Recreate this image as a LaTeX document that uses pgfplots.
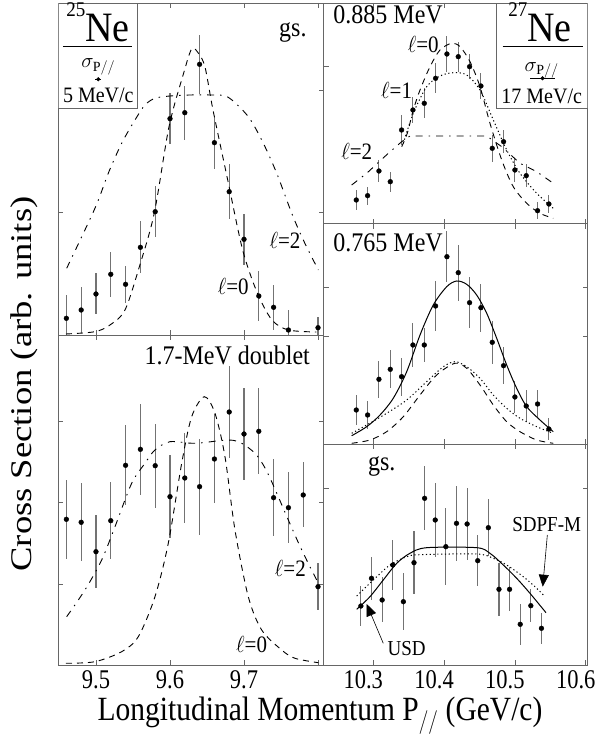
\documentclass[border=0pt]{standalone}
\usepackage{fontspec}
\setmainfont{Liberation Serif}
\usepackage{pgfplots}
\pgfplotsset{compat=1.18}
\usetikzlibrary{arrows.meta}
\tikzset{
  lab/.style={font=\fontsize{21}{21}\selectfont, yscale=1.12},
  big/.style={font=\fontsize{24}{24}\selectfont, yscale=1.12},
}
\pgfplotsset{
  panel/.style={scale only axis, anchor=south west, ymin=0,
    axis line style={black!60, line width=0.9pt},
    every tick/.style={black!60, line width=0.7pt},
    major tick length=5pt, tick align=inside,
    xtick pos=both, ytick pos=both,
    yticklabels={}, xticklabels={},
    /pgf/number format/assume math mode=true,
    xticklabel style={font=\fontsize{22.5}{22.5}\selectfont, yscale=1.2, yshift=-1pt}},
  leftp/.style={panel, width=265.2pt, xmin=9.4491, xmax=9.8074, xtick={9.5,9.6,9.7,9.8}},
  rightp/.style={panel, width=264.2pt, xmin=10.2297, xmax=10.6028, xtick={10.3,10.4,10.5,10.6}},
  dat/.style={only marks, mark=*, mark size=2.4pt, black,
    error bars/.cd, y dir=both, y explicit,
    error bar style={black!55, line width=1.1pt}, error mark=none},
  l0/.style={black, line width=0.9pt, dash pattern=on 6pt off 5pt},
  l2/.style={black, line width=0.9pt, dash pattern=on 7pt off 6pt on 1.5pt off 6pt},
  l1/.style={black, line width=1pt, dash pattern=on 1.2pt off 2.6pt},
}
\begin{document}
\begin{tikzpicture}
\path[use as bounding box] (0,0) rectangle (604pt,737pt);
% ---------------- left top: 25Ne gs
\begin{axis}[leftp, at={(58.3pt,402pt)}, height=332pt, ymax=332, ytick={123,245}]
\addplot[dat] table[x=x,y=y,y error=e] {
x y e
9.46 16.7 23
9.48 25 23
9.50 41 20.5
9.52 60.7 22.7
9.54 50.7 18.7
9.56 87.7 26
9.58 123.3 25.3
9.60 216.3 25.3
9.62 222.3 27
9.64 270.7 29.5
9.66 192.3 26.7
9.68 143.3 27.2
9.70 95.7 25.5
9.72 39 25
9.74 27.7 22.5
9.76 5 20
9.80 7.3 11
};
\addplot[l0, smooth] coordinates {(9.4595,1) (9.4986,3.3) (9.5189,10) (9.5392,25) (9.5585,68) (9.5788,122) (9.5986,208) (9.6185,262) (9.6293,286) (9.6382,282) (9.6473,268) (9.6581,225) (9.6780,155) (9.6982,85) (9.7180,42) (9.7378,15) (9.7599,5) (9.7977,3)};
\addplot[l2, smooth] coordinates {(9.4604,66.7) (9.4986,126.7) (9.5166,161.7) (9.5347,191.7) (9.5527,215) (9.5662,230) (9.5797,236.7) (9.6,239) (9.627,240) (9.654,240) (9.678,238) (9.7058,218.3) (9.7261,191.7) (9.7442,161.7) (9.7645,121.7) (9.7801,95) (9.8004,65)};
\draw[black!60, line width=0.9pt, fill=white] (axis cs:9.4491,226.7) rectangle (axis cs:9.5564,332);
\node[font=\fontsize{38}{38}\selectfont, inner sep=0pt, anchor=base, yscale=1.1] at (axis cs:9.5027,293) {\raisebox{0.6em}{\fontsize{19}{19}\selectfont 25}Ne};
\draw[black, line width=0.8pt] (axis cs:9.4554,288.3) -- (axis cs:9.5486,288.3);
\node[font=\fontsize{20}{20}\selectfont, inner sep=0pt, anchor=base] at (axis cs:9.5031,267) {$\sigma_{\mathrm{P}//}$};
\addplot[only marks, mark=*, mark size=1.8pt, black, error bars/.cd, x dir=both, x explicit, error mark=none, error bar style={line width=0.8pt}] coordinates {(9.5031,255.7) +- (0.004,0)};
\node[font=\fontsize{20}{20}\selectfont, inner sep=0pt, yscale=1.1] at (axis cs:9.5031,240) {5 MeV/c};
\node[big] at (axis cs:9.766,302) {gs.};
\node[lab] at (axis cs:9.7554,95) {$\ell$=2};
\node[lab] at (axis cs:9.6855,48.3) {$\ell$=0};
\end{axis}
% ---------------- left bottom: 1.7 MeV doublet
\begin{axis}[leftp, at={(58.3pt,72pt)}, height=330pt, ymax=330, ytick={81,163,244}, xticklabels={9.5,9.6,9.7,{}}]
\addplot[dat] table[x=x,y=y,y error=e] {
x y e
9.46 145.7 39.7
9.48 142.7 39.2
9.50 113.3 36.7
9.52 144.3 38.7
9.54 199.7 40
9.56 215.7 45.5
9.58 199.3 42
9.60 168.3 41.7
9.62 187 45
9.64 178.3 48
9.66 206 44.5
9.68 253 46
9.70 231 45.8
9.72 233.7 42.8
9.74 167.3 38.3
9.76 157.3 35.8
9.78 170 32.5
9.80 78.3 23.3
};
\addplot[l0, smooth] coordinates {(9.4595,1.7) (9.4986,3.3) (9.5347,13.3) (9.5572,28.3) (9.5797,68.3) (9.5977,121.7) (9.6158,201.7) (9.6293,248.3) (9.6464,268.3) (9.6608,251.7) (9.6743,208.3) (9.6878,135) (9.7058,68.3) (9.7239,35) (9.7509,15) (9.7689,6.7) (9.8004,2.3)};
\addplot[l2, smooth] coordinates {(9.4604,48.3) (9.4851,75) (9.5077,105) (9.5257,138.3) (9.5482,181.7) (9.5662,201.7) (9.5797,215) (9.6,223.3) (9.6338,221.7) (9.6788,225) (9.6969,221.7) (9.7149,211.7) (9.7261,200) (9.7374,183.3) (9.7599,145) (9.778,115) (9.8004,81.7)};
\node[big, anchor=east] at (axis cs:9.7937,310) {1.7-MeV doublet};
\node[lab] at (axis cs:9.7626,96.7) {$\ell$=2};
\node[lab] at (axis cs:9.7103,20) {$\ell$=0};
\end{axis}
% ---------------- right top: 0.885 MeV
\begin{axis}[rightp, at={(323.5pt,513.3pt)}, height=220.7pt, ymax=220.7, ytick={157}]
\addplot[dat] table[x=x,y=y,y error=e] {
x y e
10.276 23.7 10
10.292 28 9
10.308 52.7 11.3
10.324 42 10
10.340 93.7 15
10.356 113.7 13.3
10.372 120.4 15
10.388 145.4 15
10.404 169.7 18.3
10.420 167 15
10.436 157 12.5
10.452 137.7 13.3
10.468 75.4 13.3
10.484 82 11.7
10.500 53.7 11.7
10.516 48 11.7
10.532 13 8.3
10.548 19.7 9.2
};
\addplot[l0, smooth] coordinates {(10.3401,77) (10.348,90.4) (10.3565,113.7) (10.366,133.7) (10.3801,157) (10.3942,173.7) (10.4107,180.4) (10.4225,177) (10.4366,162) (10.4507,137) (10.4648,100.4) (10.4814,63.7) (10.4977,37) (10.5167,20.4) (10.5354,10.4) (10.5542,5.4)};
\addplot[l1, smooth] coordinates {(10.3424,80.4) (10.3565,110.4) (10.3754,137) (10.3942,147.7) (10.413,151) (10.4319,148.7) (10.4507,133.7) (10.4695,103.7) (10.4884,73.7) (10.5072,50.4) (10.5308,30.4) (10.5542,15.4)};
\addplot[l2] coordinates {(10.2695,38.7) (10.2907,50.4) (10.3212,70.4) (10.3401,82) (10.3518,87.7) (10.4602,87.7) (10.4814,77) (10.5072,60.4) (10.5308,52) (10.5542,40.4)};
\draw[black!60, line width=0.9pt, fill=white] (axis cs:10.4743,115.4) rectangle (axis cs:10.6028,220.7);
\node[font=\fontsize{38}{38}\selectfont, inner sep=0pt, anchor=base, yscale=1.1] at (axis cs:10.5354,181.7) {\raisebox{0.6em}{\fontsize{19}{19}\selectfont 27}Ne};
\draw[black, line width=0.8pt] (axis cs:10.4828,177) -- (axis cs:10.5966,177);
\node[font=\fontsize{20}{20}\selectfont, inner sep=0pt, anchor=base] at (axis cs:10.5378,152.5) {$\sigma_{\mathrm{P}//}$};
\addplot[only marks, mark=*, mark size=1.8pt, black, error bars/.cd, x dir=both, x explicit, error mark=none, error bar style={line width=0.8pt}] coordinates {(10.539,145.4) +- (0.0177,0)};
\node[font=\fontsize{20}{20}\selectfont, inner sep=0pt, yscale=1.1] at (axis cs:10.5378,127) {17 MeV/c};
\node[big, anchor=west] at (axis cs:10.2388,208.7) {0.885 MeV};
\node[lab] at (axis cs:10.3706,178.7) {$\ell$=0};
\node[lab] at (axis cs:10.333,133.7) {$\ell$=1};
\node[lab] at (axis cs:10.2766,72) {$\ell$=2};
\end{axis}
% ---------------- right middle: 0.765 MeV
\begin{axis}[rightp, at={(323.5pt,292.7pt)}, height=220.6pt, ymax=220.6, ytick={107.6,156.6}]
\addplot[dat] table[x=x,y=y,y error=e] {
x y e
10.276 34.3 15
10.292 29.3 14.2
10.308 65 18.3
10.324 75 19
10.340 67.6 19
10.356 99.3 21.7
10.372 99.3 17.3
10.388 138.3 25.3
10.404 187.6 25.8
10.420 171.6 28
10.436 141.6 25.3
10.452 136.6 24
10.468 102 21.7
10.484 78.6 18.3
10.500 47.3 15.7
10.516 38.3 15.8
10.532 40.3 14.2
10.548 15.3 10.8
};
\addplot[black, line width=1pt, smooth] coordinates {(10.2695,8.6) (10.2907,17.6) (10.3095,29.3) (10.3282,46) (10.3472,72.6) (10.366,109.3) (10.3847,139.3) (10.4037,157.6) (10.4178,163.3) (10.4319,160) (10.446,149.3) (10.4602,131) (10.4743,106) (10.4884,79.3) (10.5025,56) (10.5167,37.6) (10.5354,24.3) (10.5542,12.6)};
\addplot[l1, smooth] coordinates {(10.2695,11) (10.2907,19.3) (10.3189,31) (10.3472,44.3) (10.3754,62.6) (10.3989,77.6) (10.4154,82.6) (10.4319,77.6) (10.4507,66) (10.4695,49.3) (10.4884,36) (10.5072,26) (10.5308,17.6) (10.5542,11)};
\addplot[l0, smooth] coordinates {(10.2695,1) (10.2953,4.3) (10.3189,12.6) (10.3424,27.6) (10.366,49.3) (10.3895,69.3) (10.4154,81) (10.4319,76) (10.4507,59.3) (10.4695,39.3) (10.4884,22.6) (10.5072,12.6) (10.5308,4.3) (10.5542,1)};
\node[big, anchor=west] at (axis cs:10.2388,201.3) {0.765 MeV};
\end{axis}
% ---------------- right bottom: gs
\begin{axis}[rightp, at={(323.5pt,72pt)}, height=220.7pt, ymax=220.7, ytick={177}, xticklabels={10.3,10.4,10.5,10.6}, xticklabel style={xshift=-10pt}]
\addplot[dat] table[x=x,y=y,y error=e] {
x y e
10.2825 59 20.3
10.2975 86.7 21.3
10.3125 65 22.5
10.3275 100 25
10.3425 63.3 28.3
10.3575 102.3 31.7
10.3725 166.7 32
10.3875 145 36.7
10.4025 118.3 38.3
10.4175 141.7 37.5
10.4325 141 35.8
10.4475 104.3 25.3
10.4625 137.3 28.7
10.4775 75.7 26.7
10.4925 75.7 22.2
10.5075 40.7 20.5
10.5225 59.3 16.7
10.5375 36.7 15.3
};
\addplot[black, line width=1pt, smooth] coordinates {(10.2766,55.7) (10.2953,68.3) (10.3141,85) (10.3331,101.7) (10.3518,111.7) (10.3754,117.3) (10.446,117.3) (10.4648,111.7) (10.4836,100) (10.5025,86.7) (10.5213,71.7) (10.5439,52.3)};
\addplot[l1, smooth] coordinates {(10.2766,69) (10.3,85) (10.3236,100) (10.3472,108.3) (10.366,110.3) (10.446,111) (10.4695,106.7) (10.4884,100) (10.5119,88.3) (10.5308,76.7) (10.5425,68.3)};
\node[big] at (axis cs:10.3119,198.3) {gs.};
\node[font=\fontsize{19}{19}\selectfont, yscale=1.12] at (axis cs:10.5449,140) {SDPF-M};
\draw[black, line width=0.6pt, -{Triangle[length=12pt,width=10pt]}] (axis cs:10.5458,130) -- (axis cs:10.5393,78.3);
\node[font=\fontsize{19}{19}\selectfont, yscale=1.12] at (axis cs:10.3472,16.7) {USD};
\draw[black, line width=0.6pt, -{Triangle[length=12pt,width=10pt]}] (axis cs:10.3141,21.7) -- (axis cs:10.2907,61);
\end{axis}
\node[font=\fontsize{29.5}{29.5}\selectfont, yscale=1.15] at (320pt,21pt) {Longitudinal Momentum P$_{//}$ (GeV/c)};
\node[font=\fontsize{30}{30}\selectfont, rotate=90] at (24pt,353pt) {\scalebox{1.22}[1]{Cross Section (arb. units)}};
\end{tikzpicture}
\end{document}
